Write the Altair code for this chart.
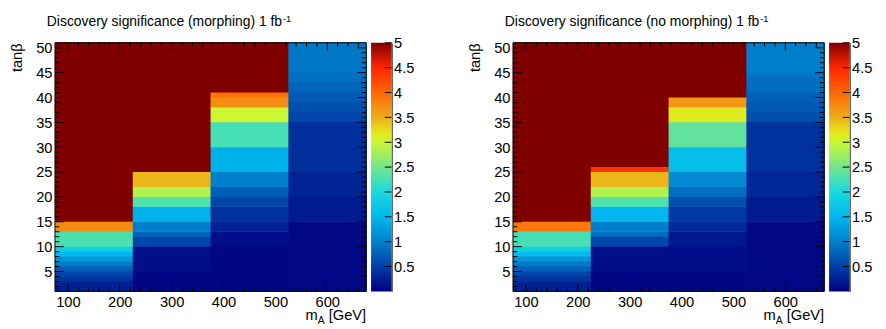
import altair as alt
import pandas as pd

# ---------------- data ----------------
MA_EDGES = [75, 225, 375, 525, 675]

MORPH_TB_EDGES = [
    [1, 3, 4, 5, 6, 7, 8, 9, 10, 13, 15, 51],
    [1, 5, 10, 12, 13, 15, 18, 20, 22, 25, 51],
    [1, 10, 13, 15, 18, 20, 22, 25, 30, 35, 38, 40, 41, 51],
    [1, 15, 20, 25, 35, 37, 39, 41, 43, 45, 51],
]
MORPH_Z = [
    [0.25, 0.4, 0.55, 0.75, 0.95, 1.2, 1.5, 1.85, 2.28, 3.73, 6.0],
    [0.05, 0.12, 0.55, 0.8, 1.0, 1.45, 2.3, 2.83, 3.45, 6.0],
    [0.05, 0.12, 0.25, 0.38, 0.55, 0.75, 1.0, 1.45, 2.25, 3.0, 3.72, 3.92, 6.0],
    [0.06, 0.2, 0.28, 0.36, 0.55, 0.62, 0.7, 0.78, 0.86, 0.93],
]

NOMORPH_TB_EDGES = [
    [1, 3, 4, 5, 6, 7, 8, 9, 10, 13, 15, 51],
    [1, 5, 10, 12, 13, 15, 18, 20, 22, 25, 26, 51],
    [1, 5, 10, 13, 15, 18, 20, 22, 25, 30, 35, 38, 40, 51],
    [1, 15, 20, 25, 35, 37, 39, 41, 44, 45, 51],
]
NOMORPH_Z = [
    [0.25, 0.4, 0.55, 0.75, 0.95, 1.2, 1.55, 1.85, 2.25, 3.88, 6.0],
    [0.05, 0.12, 0.55, 0.85, 1.0, 1.5, 2.3, 2.85, 3.45, 4.4, 6.0],
    [0.05, 0.1, 0.18, 0.33, 0.45, 0.62, 0.85, 1.1, 1.6, 2.4, 3.15, 3.65, 6.0],
    [0.06, 0.2, 0.3, 0.38, 0.6, 0.68, 0.75, 0.85, 0.92, 1.0],
]

TITLES = ["Discovery significance (morphing) 1 fb", "Discovery significance (no morphing) 1 fb"]
TITLE_SUP = "-1"
X_TITLE = ["m", "A", " [GeV]"]
Y_TITLE = "tanβ"

X_MAJOR = [100, 200, 300, 400, 500, 600]
X_MINOR = [v for v in range(80, 680, 20) if v % 100 != 0]
Y_MAJOR = [5, 10, 15, 20, 25, 30, 35, 40, 45, 50]
Y_MINOR = [v for v in range(2, 51) if v % 5 != 0]
Z_MAJOR = [0.5, 1, 1.5, 2, 2.5, 3, 3.5, 4, 4.5, 5]

Z_STOPS = [0, 0.5, 1.0, 1.5, 2.0, 2.5, 3.0, 3.2, 3.5, 4.0, 4.5, 5.0]
Z_COLORS = ["#000080", "#0040a6", "#0080cc", "#00b8ed", "#1ad9e0", "#73e68c",
            "#ccf733", "#e6e61a", "#edad1a", "#ff6605", "#ff2600", "#800000"]

# ---------------- layout ----------------
W, H = 318, 254
CB_W = 21
FONT = "Liberation Sans"
LBL = 15
TTL = 14.2

ARIAL_EM = {" ": .278, "(": .333, ")": .333, "1": .556, "D": .722, "a": .556,
            "b": .556, "c": .5, "e": .556, "f": .278, "g": .556, "h": .556,
            "i": .222, "m": .833, "n": .556, "o": .556, "p": .556, "r": .333,
            "s": .5, "v": .5, "y": .5}


def text_width(t, size):
    return sum(ARIAL_EM.get(ch, .556) for ch in t) * size


XS = alt.Scale(domain=[MA_EDGES[0], MA_EDGES[-1]], nice=False, zero=False)
YS = alt.Scale(domain=[1, 51], nice=False, zero=False)
ZS = alt.Scale(domain=[0, 5], nice=False, zero=False)
CS = alt.Scale(domain=Z_STOPS, range=Z_COLORS, clamp=True, interpolate="rgb")

X_AXIS = alt.Axis(values=X_MAJOR, ticks=False, domain=False, grid=False, title=None,
                  labelFont=FONT, labelFontSize=LBL, labelColor="black",
                  labelPadding=3, labelFlush=False)
Y_AXIS = alt.Axis(values=Y_MAJOR, ticks=False, domain=False, grid=False,
                  labelFont=FONT, labelFontSize=LBL, labelColor="black", labelPadding=3,
                  title=Y_TITLE, titleFont=FONT, titleFontSize=LBL,
                  titleFontWeight="normal", titleColor="black", titleAngle=270,
                  titleAlign="right", titleBaseline="bottom", titleX=-31, titleY=0)
Z_AXIS = alt.Axis(orient="right", values=Z_MAJOR, ticks=False, domain=True,
                  domainColor="black", domainWidth=1, grid=False, title=None,
                  labelFont=FONT, labelFontSize=LBL, labelColor="black", labelPadding=2,
                  labelFlush=False, labelExpr="'' + datum.value")


def cells(edges_list, z_list):
    rows = []
    for i, (edges, zs) in enumerate(zip(edges_list, z_list)):
        for j, z in enumerate(zs):
            rows.append(dict(x0=MA_EDGES[i], x1=MA_EDGES[i + 1],
                             y0=edges[j], y1=edges[j + 1], z=z))
    return pd.DataFrame(rows)


def hticks(values, y_from, y_to):
    return alt.Chart(pd.DataFrame({"x0": values})).mark_rule(
        color="black", strokeWidth=1).encode(
        x=alt.X("x0:Q", scale=XS, axis=X_AXIS),
        y=alt.value(y_from), y2=alt.value(y_to))


def vticks(values, x_from, x_to, scale=YS, axis=Y_AXIS, field="y0"):
    return alt.Chart(pd.DataFrame({field: values})).mark_rule(
        color="black", strokeWidth=1).encode(
        y=alt.Y(field + ":Q", scale=scale, axis=axis),
        x=alt.value(x_from), x2=alt.value(x_to))


def text(t, x, y, size, align="left"):
    return alt.Chart(pd.DataFrame({"t": [t]})).mark_text(
        text=t, font=FONT, fontSize=size, align=align, baseline="alphabetic",
        color="black").encode(x=alt.value(x), y=alt.value(y))


def panel(df, title):
    heat = alt.Chart(df).mark_rect(x2Offset=0.6, y2Offset=-0.6).encode(
        x=alt.X("x0:Q", scale=XS, axis=X_AXIS),
        x2="x1:Q",
        y=alt.Y("y0:Q", scale=YS, axis=Y_AXIS),
        y2="y1:Q",
        color=alt.Color("z:Q", scale=CS, legend=None),
    )
    frame = alt.Chart(pd.DataFrame({"a": [0]})).mark_rect(
        fill="transparent", stroke="black", strokeWidth=1).encode(
        x=alt.value(0), x2=alt.value(W), y=alt.value(0), y2=alt.value(H))
    tx = -8.3
    layers = [
        heat, frame,
        hticks(X_MAJOR, H, H - 8), hticks(X_MINOR, H, H - 4),
        hticks(X_MAJOR, 0, 8), hticks(X_MINOR, 0, 4),
        vticks(Y_MAJOR, 0, 9), vticks(Y_MINOR, 0, 4.5),
        vticks(Y_MAJOR, W, W - 9), vticks(Y_MINOR, W, W - 4.5),
        text(title, tx, -17, TTL),
        text(TITLE_SUP, tx + text_width(title, TTL) + 0.5, -21, 9.5),
        text(X_TITLE[2], W, H + 29, LBL, align="right"),
        text(X_TITLE[1], W - 42.5, H + 33, 10.5, align="right"),
        text(X_TITLE[0], W - 42.5 - 7, H + 29, LBL, align="right"),
    ]
    hm = alt.layer(*layers).properties(
        width=W, height=H, view=alt.ViewBackground(stroke="transparent"))

    grad = alt.LinearGradient(
        gradient="linear", x1=0, x2=0, y1=1, y2=0,
        stops=[alt.GradientStop(color=c, offset=s / 5.0) for s, c in zip(Z_STOPS, Z_COLORS)])
    bar = alt.Chart(pd.DataFrame({"lo": [0], "hi": [5]})).mark_rect(color=grad).encode(
        y=alt.Y("lo:Q", scale=ZS, axis=Z_AXIS),
        y2="hi:Q",
        x=alt.value(0), x2=alt.value(CB_W))
    cb = alt.layer(bar, vticks(Z_MAJOR, CB_W, CB_W - 7, scale=ZS, axis=Z_AXIS, field="lo")).properties(
        width=CB_W, height=H, view=alt.ViewBackground(stroke="transparent"))
    return alt.hconcat(hm, cb, spacing=2)


p1 = panel(cells(MORPH_TB_EDGES, MORPH_Z), TITLES[0])
p2 = panel(cells(NOMORPH_TB_EDGES, NOMORPH_Z), TITLES[1])

chart = alt.hconcat(p1, p2, spacing=53).properties(
    padding={"left": 1, "top": 2, "right": 5, "bottom": 5},
    background="white")

chart.save("out.html", embed_options={"renderer": "svg", "actions": False})
